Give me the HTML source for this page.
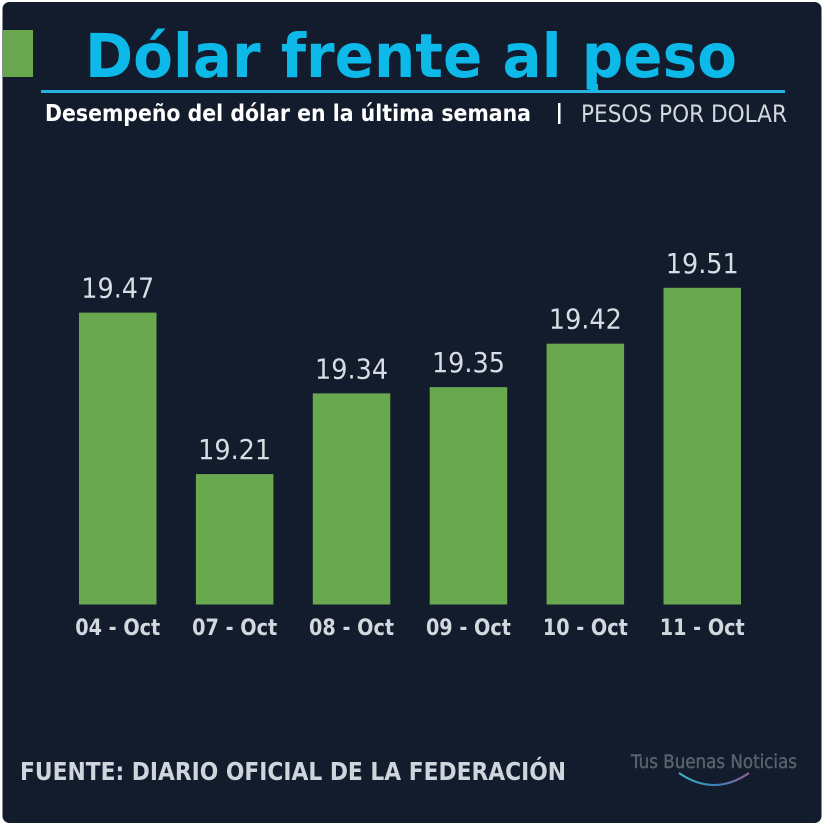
<!DOCTYPE html>
<html lang="es">
<head>
<meta charset="utf-8">
<title>Dólar frente al peso</title>
<style>
html,body{margin:0;padding:0;background:#fff;}
svg{display:block;filter:blur(0.35px);}
text{font-family:"DejaVu Sans","Liberation Sans",sans-serif;}
</style>
</head>
<body>
<svg id="chart" xmlns="http://www.w3.org/2000/svg" width="825" height="826" viewBox="0 0 825 826">
  <defs>
    <linearGradient id="smileGrad" x1="0" y1="0" x2="1" y2="0">
      <stop offset="0" stop-color="#3fb3c4"/>
      <stop offset="0.55" stop-color="#3f7fb8"/>
      <stop offset="1" stop-color="#a0609a"/>
    </linearGradient>
  </defs>
  <rect x="2.5" y="2" width="819" height="821" rx="7" fill="#131c2c"/>
  <rect x="3" y="30" width="30" height="47" fill="#6aa84f"/>
  <text x="85" y="77" font-size="61" font-weight="700" fill="#0cb9e8" textLength="652" lengthAdjust="spacingAndGlyphs">Dólar frente al peso</text>
  <rect x="41" y="90" width="744" height="3" fill="#27b3dd"/>
  <rect x="590" y="84" width="8" height="7" fill="#0cb9e8"/>
  <text x="45" y="121" font-size="23" font-weight="700" fill="#ffffff" textLength="486" lengthAdjust="spacingAndGlyphs">Desempeño del dólar en la última semana</text>
  <rect x="558" y="103" width="2.5" height="21" fill="#ffffff"/>
  <text x="581" y="122" font-size="24" fill="#d3d8df" textLength="206" lengthAdjust="spacingAndGlyphs">PESOS POR DOLAR</text>
  <g id="bars"></g>
  <text x="20" y="780" font-size="24.5" font-weight="700" fill="#cfd5dd" textLength="546" lengthAdjust="spacingAndGlyphs">FUENTE: DIARIO OFICIAL DE LA FEDERACIÓN</text>
  <text x="631" y="768" font-size="18.5" fill="#5a616d" stroke="#5a616d" stroke-width="0.4" textLength="166" lengthAdjust="spacingAndGlyphs">Tus Buenas Noticias</text>
  <path d="M679 773 Q714 797 749 773" fill="none" stroke="url(#smileGrad)" stroke-width="2"/>
</svg>
<script>
const categories = ['04 - Oct', '07 - Oct', '08 - Oct', '09 - Oct', '10 - Oct', '11 - Oct'];
const values = [19.47, 19.21, 19.34, 19.35, 19.42, 19.51];

const NS = 'http://www.w3.org/2000/svg';
const barsGroup = document.getElementById('bars');
const axisMin = 19;
const baseY = 604.5;
const pxPerUnit = 621;
const firstBarX = 79;
const barStep = 116.9;
const barWidth = 77.5;

function yScale(v) {
  return baseY - (v - axisMin) * pxPerUnit;
}
function xScale(i) {
  return firstBarX + i * barStep;
}

categories.forEach(function (category, i) {
  const top = yScale(values[i]);
  const left = xScale(i);
  const center = left + barWidth / 2;

  const bar = document.createElementNS(NS, 'rect');
  
  
  bar.setAttribute('x', left);
  bar.setAttribute('y', top);
  bar.setAttribute('width', barWidth);
  bar.setAttribute('height', baseY - top);
  bar.setAttribute('fill', '#6aa84f');
  barsGroup.appendChild(bar);

  const valueLabel = document.createElementNS(NS, 'text');
  
  
  valueLabel.setAttribute('x', center);
  valueLabel.setAttribute('y', top - 15);
  valueLabel.setAttribute('text-anchor', 'middle');
  valueLabel.setAttribute('font-size', '28');
  valueLabel.setAttribute('fill', '#d8dde4');
  valueLabel.setAttribute('textLength', '73');
  valueLabel.setAttribute('lengthAdjust', 'spacingAndGlyphs');
  valueLabel.textContent = values[i].toFixed(2);
  barsGroup.appendChild(valueLabel);

  const categoryLabel = document.createElementNS(NS, 'text');
  
  
  categoryLabel.setAttribute('x', center);
  categoryLabel.setAttribute('y', 635);
  categoryLabel.setAttribute('text-anchor', 'middle');
  categoryLabel.setAttribute('font-size', '22');
  categoryLabel.setAttribute('font-weight', '700');
  categoryLabel.setAttribute('fill', '#d3d8df');
  categoryLabel.setAttribute('textLength', '85');
  categoryLabel.setAttribute('lengthAdjust', 'spacingAndGlyphs');
  categoryLabel.textContent = category;
  barsGroup.appendChild(categoryLabel);
});
</script>
</body>
</html>
